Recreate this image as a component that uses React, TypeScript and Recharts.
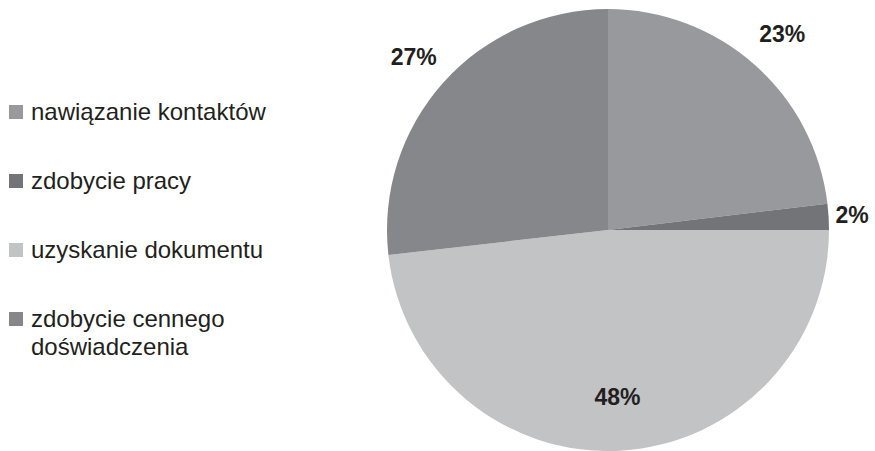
import React from 'react';
import { PieChart, Pie, Cell, Legend } from 'recharts';

const categories = [
  'nawiązanie kontaktów',
  'zdobycie pracy',
  'uzyskanie dokumentu',
  'zdobycie cennego doświadczenia',
];
const shares = [23.1, 1.9, 48.2, 26.8];
const colors = ['#98999d', '#737478', '#c2c3c5', '#86878b'];

const data = categories.map((name, i) => ({ name, value: shares[i] }));

const FONT = '"Liberation Sans", Arial, sans-serif';
const RADIAN = Math.PI / 180;

const renderLabel = (props: any) => {
  const { cx, cy, midAngle, outerRadius, percent } = props;
  const inside = percent > 0.4;
  const s = Math.abs(Math.sin(-midAngle * RADIAN));
  const r = inside ? outerRadius * 0.755 : outerRadius + 22 + 26 * s;
  const x = cx + r * Math.cos(-midAngle * RADIAN);
  const y = cy + r * Math.sin(-midAngle * RADIAN);
  return (
    <text
      x={x}
      y={y}
      textAnchor="middle"
      dominantBaseline="central"
      fill="#231f20"
      fontFamily={FONT}
      fontWeight="bold"
      fontSize={23}
    >
      {`${Math.round(percent * 100)}%`}
    </text>
  );
};

const renderLegend = () => (
  <div style={{ fontFamily: FONT }}>
    {categories.map((name, i) => (
      <div key={name} style={{ display: 'flex', alignItems: 'flex-start', height: 69 }}>
        <span
          style={{
            width: 14,
            height: 14,
            background: colors[i],
            marginTop: 7,
            marginRight: 8,
            flexShrink: 0,
          }}
        />
        <span
          style={{
            fontSize: 24,
            lineHeight: '28px',
            color: '#231f20',
            width: 250,
          }}
        >
          {name}
        </span>
      </div>
    ))}
  </div>
);

export default function App() {
  return (
    <div style={{ position: 'absolute', left: 0, top: 0, width: 875, height: 451, background: '#fff' }}>
      <PieChart width={875} height={451}>
        <Pie
          data={data}
          dataKey="value"
          nameKey="name"
          cx={603}
          cy={225}
          outerRadius={221}
          startAngle={90}
          endAngle={-270}
          stroke="none"
          label={renderLabel}
          labelLine={false}
          isAnimationActive={false}
        >
          {data.map((d, i) => (
            <Cell key={d.name} fill={colors[i]} />
          ))}
        </Pie>
        <Legend
          content={renderLegend}
          wrapperStyle={{ position: 'absolute', left: 9, top: 98, width: 300 }}
        />
      </PieChart>
    </div>
  );
}
